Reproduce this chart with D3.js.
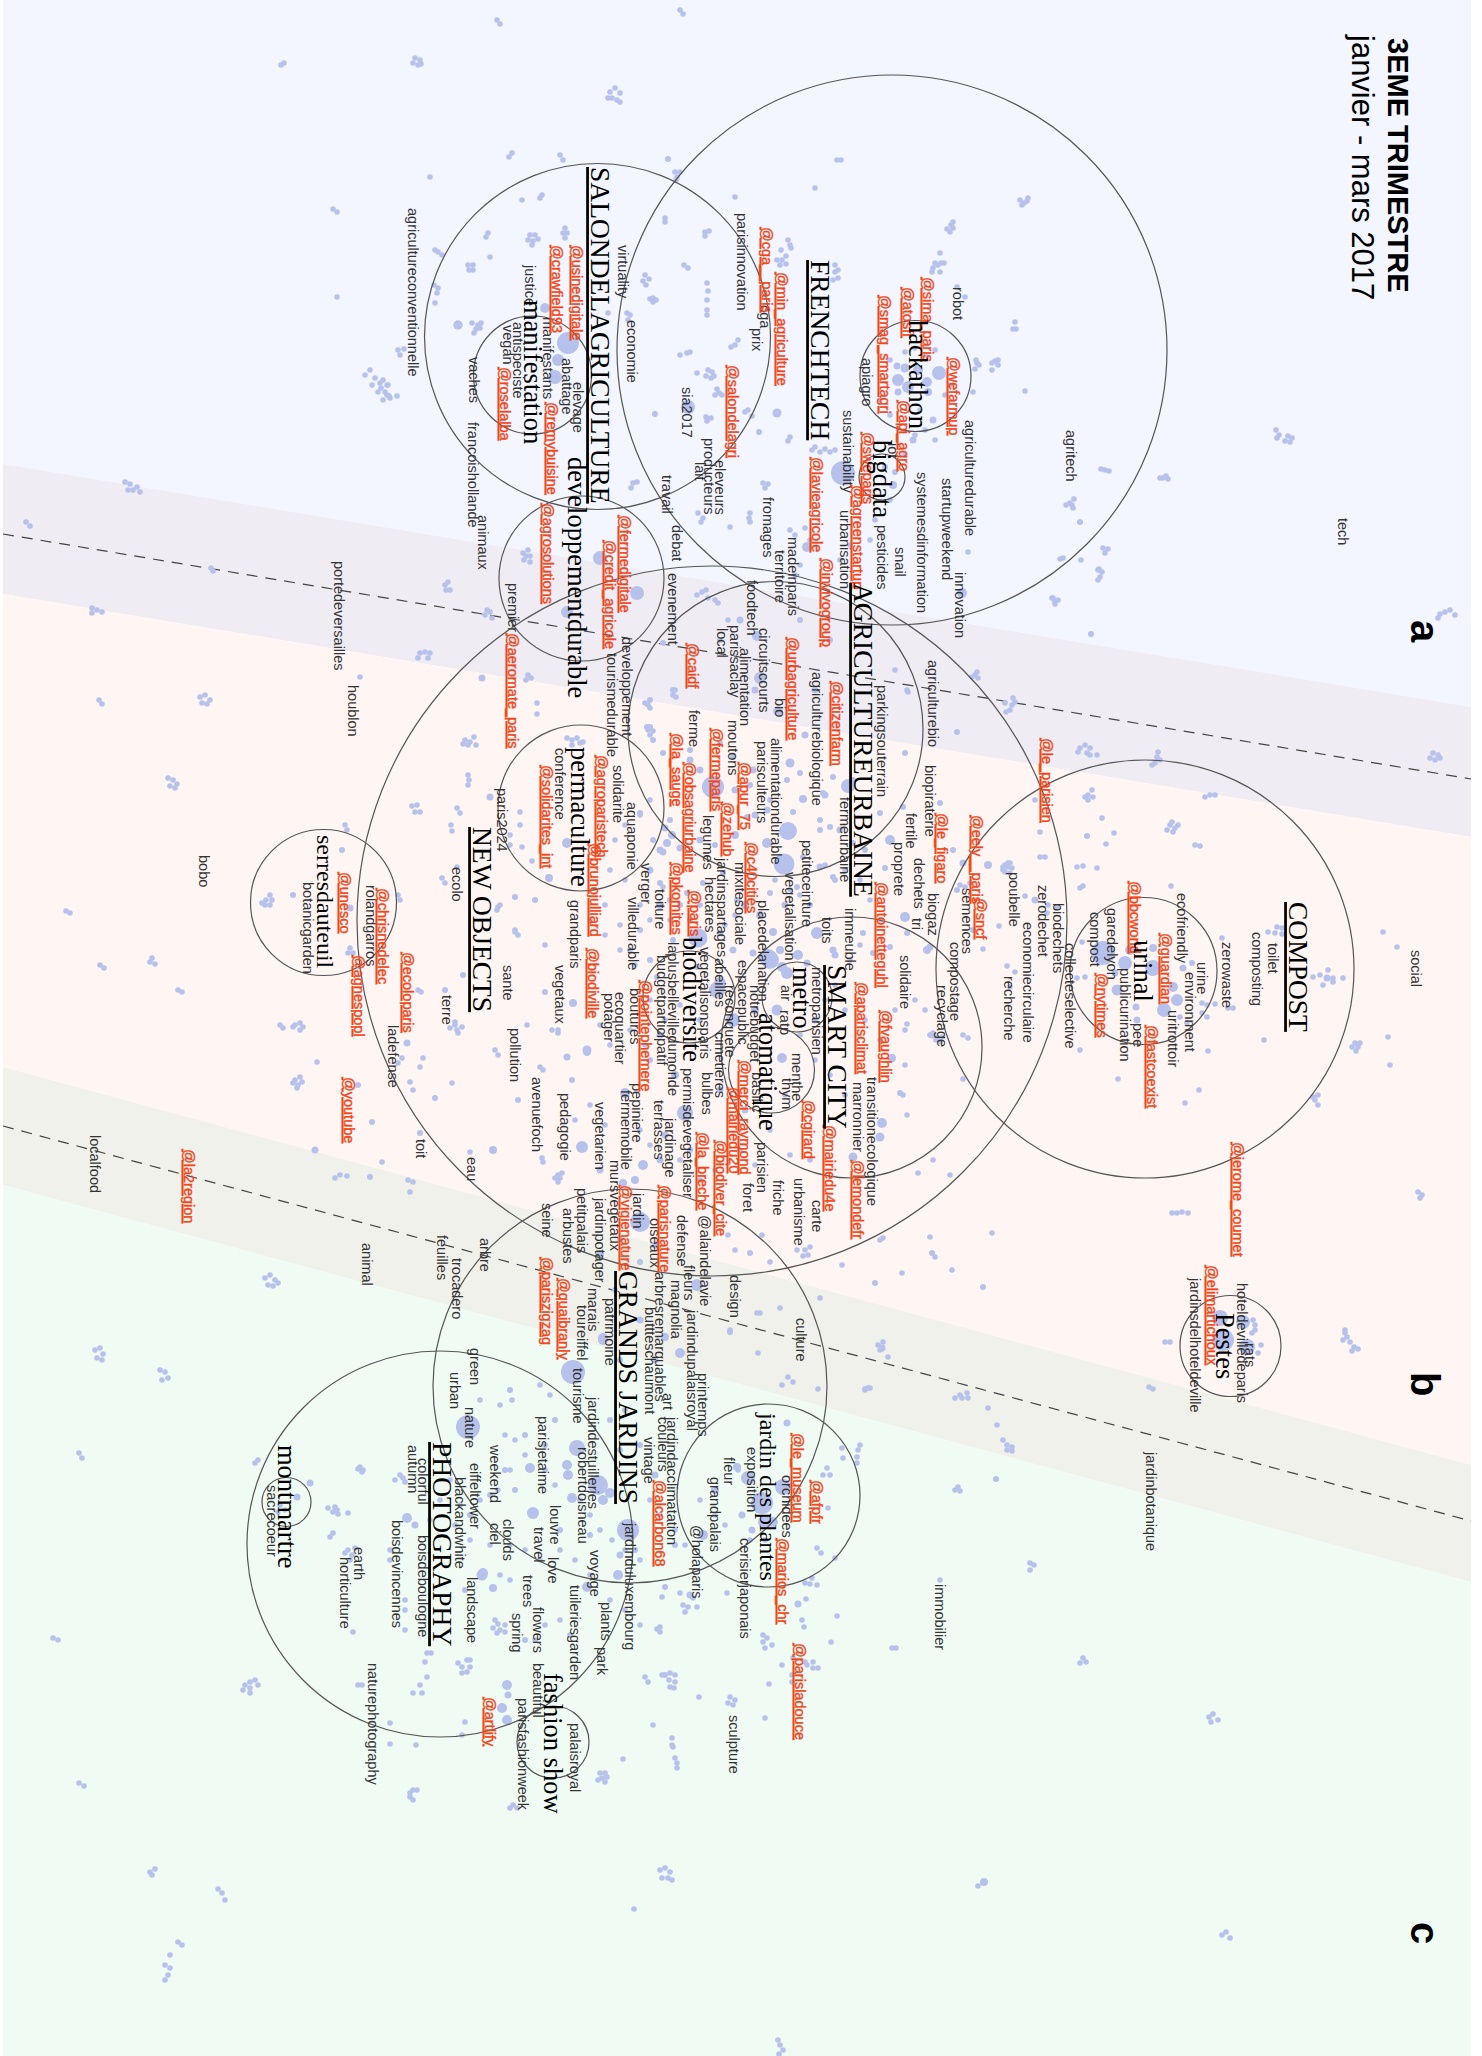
<!DOCTYPE html>
<html lang="en">
    <head>
        <meta charset="utf-8">
        <title>3EME TRIMESTRE</title>
        <script type="text/javascript" src="https://d3js.org/d3.v7.min.js"></script>
        <style type="text/css">
            body { margin: 0; background: #fff; }
            svg { display: block; }
            text { font-family: "Liberation Sans", sans-serif; }
            .word { font-size: 14.5px; fill: #333; }
            .handle { font-size: 14.5px; fill: #f2461a; stroke: #f2461a; stroke-width: 0.4px; text-decoration: underline; }
            .sub { font-family: "Liberation Serif", serif; font-size: 26.5px; fill: #000; }
            .subsmall { font-family: "Liberation Serif", serif; font-size: 24px; fill: #000; }
            .topic { font-family: "Liberation Serif", serif; font-size: 27.5px; fill: #000; text-decoration: underline; }
        </style>
    </head>
    <body>
        <div id="map"></div>
        <script type="text/javascript">

            // the three periods, edges read at the left and right side of the map
            var bandColors = ["#f3f6ff", "#f0ecf4", "#fff6f3", "#f1f1eb", "#f0fbf4"];
            var bandLeft = [464, 594, 1067, 1185];
            var bandRight = [707, 837, 1465, 1582];
            var dashLeft = [534, 1126];
            var dashRight = [779, 1521];
            var periods = [["a", 1425, 620], ["b", 1425, 1372], ["c", 1425, 1922]];

            // [x, y, radius]
            var circles = [
                [892,350,275],[597.5,336.5,173],[532.5,375,59],[915.5,376,55.5],[882,477,23],
                [581.5,578.5,82.5],[775.5,729,147.5],[581,808,83],[712,921,355],[323.5,902.5,73],
                [851.5,1047.5,130.5],[797,997,35],[771.5,1070,43],[689,997,46],[1145,969,209],
                [1143.5,971,73.5],[1230.5,1346,50.5],[630,1386,197],[768.5,1495.5,91.5],
                [440,1544,193],[286.5,1502,24.5],[553,1742,36]
            ];

            // [name, x, y]
            var topics = [
                ["SALONDELAGRICULTURE",600,167],["FRENCHTECH",820,260],["AGRICULTUREURBAINE",863,583],
                ["NEW OBJECTS",482,827],["SMART CITY",837,965],["COMPOST",1298,902],
                ["GRANDS JARDINS",628,1271],["PHOTOGRAPHY",442,1442]
            ];
            var subtopics = [
                ["manifestation",533,300],["developpementdurable",577,457],["hackathon",918,320],
                ["bigdata",882,440],["permaculture",580,747],["biodiversite",692,937],
                ["metro",802,967],["atomatique",768,1013],["urinal",1143,940],["Pestes",1225,1313],
                ["montmartre",287,1445],["fashion show",553,1673]
            ];
            var subtopicsSmall = [["serresdauteuil",325,835],["jardin des plantes",768,1413]];

            var handles = [
                ["@cga__paris",767,227],["@min_agriculture",782,272],["@usinedigitale",577,245],
                ["@crawfield93",557,245],["@roselalba",505,367],["@remybuisine",552,402],
                ["@salondelagri",733,365],["@lavieagricole",817,457],["@agreenstartup",858,485],
                ["@sweparis",868,432],["@invivogroup",827,558],["@fermedigitale",625,515],
                ["@credit_agricole",610,540],["@agrosolutions",548,503],["@aeromate_paris",513,633],
                ["@caidf",693,643],["@urbagriculture",793,637],["@citizenfarm",837,681],
                ["@la_sauge",677,733],["@fermeparis",717,728],["@apur_75",745,762],
                ["@obsagriurbaine",690,762],["@zehub",728,802],["@c40cities",752,842],
                ["@pkomites",677,862],["@paris",695,890],["@solidarites_int",547,765],
                ["@agroparistech",602,755],["@brunojulliard",595,843],["@biodiville",593,948],
                ["@le_figaro",942,813],["@antoinetteguhl",882,882],["@eely__paris",977,815],
                ["@sncf",981,898],["@le_parisien",1047,738],["@bbcworld",1135,881],
                ["@nytimes",1102,973],["@guardian",1166,933],["@fastcoexist",1152,1025],
                ["@jerome_coumet",1238,1142],["@sima_paris",928,277],["@atosfr",908,287],
                ["@smag_smartagri",885,295],["@wefarmup",954,357],["@api_agro",904,400],
                ["@merci_raymond",745,1060],["@mairiedu20",734,1087],["@biodiver_cite",721,1140],
                ["@la_breche",703,1132],["@cgirard",809,1100],["@mairiedu4e",830,1125],
                ["@lemondefr",858,1160],["@fvaughlin",886,1010],["@aparisclimat",862,982],
                ["@pointephemere",646,980],["@vigienature",626,1185],["@parisnature",665,1185],
                ["@quaibranly",564,1278],["@pariszigzag",547,1257],["@alcarbon68",660,1480],
                ["@le_museum",798,1433],["@afpfr",817,1480],["@marios_chr",783,1538],
                ["@parisladouce",800,1643],["@artlify",490,1697],["@unesco",345,872],
                ["@chrisnedelec",383,888],["@agnespopl",359,955],["@ecoloparis",408,952],
                ["@youtube",349,1077],["@la2region",189,1149],["@elimartichoux",1212,1265]
            ];

            var words = [
                ["agricultureconventionnelle",413,208],["virtuality",623,245],["economie",632,320],
                ["parisinnovation",742,213],["cga",765,305],["prix",757,328],["justice",530,265],
                ["manifestants",548,317],["antispeciste",518,322],["vegan",508,325],["abattage",567,358],
                ["elevage",578,382],["vaches",474,357],["francoishollande",473,422],["animaux",483,515],
                ["sia2017",687,387],["producteurs",709,438],["lait",700,462],["eleveurs",720,460],
                ["travail",667,475],["debat",677,525],["evenement",673,573],["fromages",768,497],
                ["madeinparis",793,537],["territoire",780,550],["foodtech",752,580],
                ["sustainability",848,410],["urbanisation",845,510],["premier",513,583],
                ["developpement",627,637],["tourismedurable",612,653],["local",722,628],
                ["parissaclay",735,625],["circuitscourts",764,628],["alimentation",745,648],
                ["bio",780,698],["agriculturebiologique",817,672],["ferme",694,710],["moutons",733,720],
                ["parisculteurs",762,741],["alimentationdurable",776,738],["legumes",708,815],
                ["mixitesociale",740,862],["jardinspartages",722,858],["hectares",710,877],
                ["laplusbellevilledumonde",673,942],["budgetparticipatif",662,955],
                ["vegetalisonsparis",705,947],["abeilles",720,958],["placedelanation",763,900],
                ["vegetalisation",790,872],["petiteceinture",807,840],["toits",827,917],
                ["espacepublic",743,960],["notrebudget",755,985],["reconquete",730,985],
                ["cimetieres",720,1032],["villedurable",633,897],["toiture",660,889],["verger",646,863],
                ["grandparis",575,900],["vegetaux",560,965],["sante",508,965],["ecolo",457,867],
                ["paris2024",502,788],["conference",560,748],["solidarite",618,765],["aquaponie",632,802],
                ["houblon",353,685],["fermeurbaine",845,797],["parkingsouterrain",882,685],
                ["agriculturebio",933,660],["biopiraterie",930,765],["fertile",911,813],["proprete",899,842],
                ["dechets",919,858],["biogaz",933,893],["tri",917,918],["immeuble",850,908],
                ["semences",967,888],["compostage",955,942],["recyclage",942,985],["solidaire",905,955],
                ["poubelle",1014,872],["zerodechet",1043,885],["biodechets",1058,903],
                ["economiecirculaire",1028,922],["recherche",1009,976],["collecteselective",1070,943],
                ["compost",1095,912],["garedelyon",1112,908],["publicurination",1125,968],
                ["ecofriendly",1182,893],["urine",1202,962],["environment",1190,972],["uritrottoir",1173,1010],
                ["pee",1138,1023],["zerowaste",1227,942],["composting",1257,932],["toilet",1273,943],
                ["robot",958,287],["apiagro",867,358],["agriculturedurable",970,420],["iot",893,443],
                ["systemesdinformation",922,472],["startupweekend",947,478],["agritech",1071,430],
                ["snail",900,547],["pesticides",882,525],["innovation",960,572],["tech",1343,518],
                ["social",1416,950],["metroparisien",817,967],["air",786,985],["ratp",785,1010],
                ["menthe",797,1053],["thym",787,1078],["basilic",757,1072],["@alaindelavie",705,1215],
                ["parisien",762,1142],["foret",748,1183],["friche",778,1180],["urbanisme",799,1178],
                ["carte",817,1200],["marronnier",858,1082],["transitionecologique",872,1077],
                ["permisdevegetaliser",688,1068],["bulbes",707,1072],["boutures",635,988],
                ["ecoquartier",620,992],["potager",609,993],["pepiniere",637,1083],["fermemobile",626,1090],
                ["vegetarien",600,1102],["pedagogie",565,1093],["terrasses",659,1100],["jardinage",670,1118],
                ["mursvegetaux",615,1160],["jardin",638,1193],["oiseaux",655,1218],["defense",682,1215],
                ["petitpalais",582,1188],["jardinpotager",600,1198],["arbustes",568,1208],["fleurs",689,1265],
                ["magnolia",676,1280],["design",735,1275],["culture",801,1318],["arbresremarquables",660,1272],
                ["buttteschaumont",650,1307],["patrimoine",610,1298],["marais",593,1288],["toureiffel",582,1305],
                ["seine",547,1203],["arbre",485,1238],["trocadero",457,1258],["feuilles",442,1235],
                ["animal",367,1243],["jardindupalaisroyal",692,1310],["printemps",703,1373],["art",668,1393],
                ["jardindacclimatation",672,1417],["couleurs",663,1417],["vintage",649,1437],
                ["jardinduluxembourg",630,1523],["exposition",752,1447],["fleur",729,1457],
                ["grandpalais",715,1477],["orchidees",787,1475],["@holaparis",697,1525],
                ["cerisierjaponais",745,1538],["immobilier",940,1584],["sculpture",734,1715],
                ["jardinbotanique",1151,1452],["robertdoisneau",583,1447],["jardindestuilleries",593,1397],
                ["tourisme",578,1368],["parisjetaime",543,1416],["louvre",555,1505],["love",553,1557],
                ["voyage",595,1550],["travel",539,1527],["clouds",508,1519],["ciel",495,1523],
                ["weekend",495,1445],["eiffeltower",475,1463],["blackandwhite",460,1477],["nature",470,1407],
                ["urban",455,1372],["green",475,1348],["colorful",423,1458],["autumn",413,1445],
                ["boisdevincennes",397,1520],["boisdeboulogne",423,1535],["landscape",472,1577],
                ["trees",528,1575],["spring",517,1613],["flowers",538,1607],["tuileriesgarden",575,1585],
                ["plants",606,1602],["park",602,1647],["beautiful",538,1663],["parisfashionweek",523,1698],
                ["palaisroyal",575,1723],["naturephotography",373,1663],["earth",359,1547],
                ["horticulture",345,1557],["sacrecoeur",272,1485],["botanicgarden",308,882],
                ["rolandgarros",371,885],["terre",447,995],["ladefense",393,1025],["pollution",515,1028],
                ["avenuefoch",537,1077],["toit",421,1139],["eau",472,1157],["portedeversailles",339,561],
                ["bobo",204,855],["localfood",95,1135],["rats",1250,1343],["hoteldevilledeparis",1242,1283],
                ["jardinsdelhoteldeville",1195,1278]
            ];

            // posts with several interactions: [x, y, radius]
            var bigDots = [
                [568,343,11],[558,360,6],[555,377,7],[545,308,5],[458,325,4.7],[430,177,2.8],[843,473,12],
                [777,413,4.5],[688,407,7],[600,558,7],[637,593,7],[807,547,5],[655,414,3],[759,432,3],
                [939,373,7],[898,380,6],[905,368,4.5],[908,387,6],[927,382,5],[933,420,3.5],[898,392,3.5],
                [928,392,4],[918,370,5],[897,366,3.5],[913,440,3.5],[893,485,4],[885,467,3],[895,472,3],
                [713,787,11],[788,831,9],[784,864,10.5],[698,938,9.5],[770,960,9],[760,678,6],[757,636,5],
                [778,711,4.8],[803,799,4],[825,795,3.5],[790,763,4.6],[848,786,7],[567,612,6],[667,843,4],
                [672,835,4],[660,850,3.5],[680,848,3.5],[665,828,3.5],[567,843,5],[549,878,4],[490,797,3.5],
                [767,843,5],[805,735,3.5],[890,840,5],[885,868,3],[905,917,5],[817,933,6],[773,932,4],
                [798,955,5],[782,967,5],[720,983,6],[988,865,4],[957,732,3],[905,753,3],[768,958,9],
                [787,973,6],[777,1010,5.5],[782,1058,5],[733,1020,7],[717,990,8],[685,1113,8],[640,1222,10],
                [582,1147,6],[587,1050,4.5],[625,1093,5],[643,1165,5],[623,1183,4],[635,1180,4],[697,1285,6],
                [603,1340,5],[882,1123,5],[880,1137,4.5],[853,1157,4.5],[892,1058,4],[900,1093,3],[932,1035,3.5],
                [573,1372,12],[468,1427,12],[577,1448,8],[530,1468,5],[567,1465,5],[568,1475,5],[572,1498,5],
                [533,1513,6],[598,1485,10],[610,1493,5],[603,1500,5],[628,1530,11],[762,1503,11],[748,1478,7],
                [783,1487,8],[703,1535,5],[765,1522,7],[680,1353,5],[603,1338,5],[665,1337,4],[715,1490,4],
                [737,1467,4],[787,1423,3.5],[773,1522,5],[742,1515,3.5],[752,1530,3.5],[587,1587,5],[618,1575,5],
                [483,1573,5],[407,1518,5],[415,1525,3.5],[482,1575,5.5],[493,1588,4],[507,1685,5],[502,1708,5],
                [507,1720,5],[508,1695,3.5],[310,1483,3.5],[297,1497,3.5],[1103,953,12],[1130,950,5],[1125,963,7],
                [1153,968,8],[1117,990,5.5],[1115,973,3.5],[1177,1000,6],[1164,1010,7],[1173,987,5],[1153,948,4],
                [1137,1020,3.5],[1183,968,3.5],[1192,963,3],[1136,1007,3.5],[1220,1318,8],[1223,1340,11],
                [1243,1322,7],[1247,1347,8],[963,863,3.5],[1035,900,3.5],[927,950,4],[350,908,3.5],[293,895,3],
                [342,850,3],[445,990,3],[463,975,3],[515,897,3],[535,900,3],[545,992,3],[573,1003,4],[587,1052,4],
                [567,1057,3.5],[572,1080,3],[518,1100,3],[493,1150,4],[420,1133,3],[435,1098,3],[407,1043,3.5],
                [358,1085,3],[372,1122,3],[315,1150,3.5],[370,1177,3],[482,678,3.5],[650,727,3],[882,1348,3.5],
                [730,1332,3],[750,1253,3],[875,1283,3],[983,1287,3],[1091,634,3],[1080,522,3],[962,593,5],
                [1327,978,3.5],[1087,836,3],[668,159,3],[996,1479,3],[798,1604,3.5],[665,1587,3],[665,1675,3],
                [984,1882,4],[740,620,3.5],[720,640,3],[755,690,3.5],[800,620,3],[830,640,3],[815,690,3.5],
                [700,770,3.5],[690,750,3],[735,790,3.5],[750,785,3],[770,800,3],[820,830,3],[840,830,3.5],
                [755,815,3.5],[735,835,4],[700,840,3.5],[715,845,3],[650,870,3.5],[660,905,4],[690,920,3],
                [680,905,3],[745,905,4],[785,905,3.5],[760,915,4],[810,905,3],[835,880,3],[865,850,3],
                [835,955,3.5],[815,1020,3.5],[755,1010,4],[700,1020,3],[660,1035,3.5],[650,1060,3],[675,1075,4],
                [720,1090,3.5],[745,1110,3.5],[665,1135,3.5],[690,1150,3],[660,1160,3.5],[600,1170,3.5],[620,1240,3],
                [655,1245,3.5],[600,1255,4],[640,1262,3],[615,1290,3],[640,1320,3.5],[655,1360,3.5],[620,1360,3],
                [625,1410,3],[640,1445,3],[655,1475,3.5],[620,1450,3],[610,1420,3],[510,1390,3],[525,1435,3],
                [555,1420,3],[545,1445,3],[505,1470,3],[515,1490,3],[490,1495,3],[620,1555,3.5],[635,1550,3],
                [590,1535,3],[560,1530,3],[470,1515,3],[465,1590,3],[525,1640,3],[690,1595,3.5],[675,1545,3],
                [653,840,3],[663,852,3.5],[670,820,3],[640,813,3],[673,690,3],[663,643,3],[650,700,3],[647,727,3],
                [653,740,3],[663,753,3],[690,760,3.5],[720,743,3],[733,757,3],[753,770,3.5],[787,780,3],[800,773,3],
                [823,793,3],[833,777,3],[853,780,3],[747,817,3],[767,810,3.5],[793,812,3],[820,820,3],[830,827,3],
                [803,857,3],[820,867,3.5],[833,877,3],[853,843,3],[880,813,3],[903,807,3],[940,803,3],[953,850,3],
                [957,890,3],[973,930,3],[930,947,3.5],[907,933,3],[890,947,3],[873,953,3],[863,933,3],[833,950,3.5],
                [807,963,3.5],[780,950,4],[753,953,3.5],[733,950,3.5],[720,933,3.5],[697,967,3],[673,940,3],[650,960,3],
                [640,930,3],[630,950,3],[657,977,3],[670,900,3],[660,883,3],[687,893,3],[703,883,3],[723,873,3],
                [737,900,3],[770,893,3],[797,887,3]
            ];

            // posts with one interaction: [x, y]
            var smallDots = [
                [530,235],[535,235],[528,240],[533,241],[538,239],[532,245],[565,228],[563,233],[567,233],[565,238],
                [468,265],[473,265],[469,270],[473,270],[435,250],[438,252],[442,255],[434,285],[438,288],[437,293],
                [435,303],[398,350],[404,349],[400,355],[383,380],[387,385],[381,388],[387,395],[389,396],[397,396],
                [472,323],[478,325],[476,329],[481,323],[474,333],[480,328],[490,257],[488,233],[486,237],[542,195],
                [540,198],[512,153],[509,157],[560,155],[563,160],[675,172],[677,177],[680,172],[676,180],[665,218],
                [665,222],[705,232],[705,236],[709,231],[684,265],[688,268],[645,275],[643,281],[649,279],[646,285],
                [650,299],[653,298],[656,300],[653,302],[707,283],[708,291],[707,300],[707,310],[707,315],[781,250],
                [786,256],[782,260],[777,260],[780,265],[786,264],[790,245],[788,240],[791,248],[627,313],[630,315],
                [628,320],[608,313],[738,340],[735,345],[731,347],[680,355],[687,353],[690,352],[708,370],[712,372],
                [706,376],[711,378],[714,376],[697,373],[715,395],[719,393],[717,389],[722,395],[706,417],[711,418],
                [707,421],[745,412],[748,410],[752,416],[835,265],[835,272],[838,270],[838,278],[833,280],[633,483],
                [637,482],[631,488],[523,553],[528,550],[526,556],[530,556],[524,560],[530,562],[445,585],[448,582],
                [446,590],[450,590],[763,483],[768,484],[765,488],[750,513],[749,518],[750,522],[812,450],[815,447],
                [820,452],[825,449],[830,452],[835,450],[790,437],[788,441],[730,527],[698,513],[703,518],[701,522],
                [790,530],[795,535],[805,528],[810,540],[800,565],[795,575],[735,197],[815,188],[837,160],[841,160],
                [951,225],[953,228],[950,232],[947,229],[953,222],[940,253],[935,263],[938,265],[933,268],[941,263],
                [932,272],[940,272],[944,263],[957,287],[965,297],[1015,322],[1016,329],[1013,329],[995,361],[998,365],
                [992,363],[998,360],[992,370],[1025,391],[976,360],[979,365],[975,369],[977,363],[973,392],[1020,200],
                [1024,203],[1027,201],[1022,205],[1028,198],[1101,469],[1105,470],[1109,471],[1160,478],[1163,478],
                [1166,476],[1168,479],[1276,430],[1279,435],[1277,438],[1070,503],[1072,505],[1074,499],[1066,505],
                [1073,508],[1103,548],[1105,553],[1108,549],[1060,559],[1063,558],[1081,560],[1098,570],[1102,572],
                [1100,577],[1099,569],[1098,580],[1053,598],[1055,601],[1058,600],[1055,604],[1052,598],[968,552],
                [905,352],[915,348],[925,355],[890,360],[935,350],[945,395],[950,385],[880,400],[890,415],[920,410],
                [925,430],[935,440],[905,455],[915,435],[890,500],[875,520],[870,540],[840,560],[850,545],
                [465,740],[470,742],[474,737],[468,745],[476,745],[463,744],[468,775],[469,780],[468,785],[412,806],
                [417,805],[415,812],[420,812],[457,808],[460,813],[451,825],[452,831],[487,610],[490,612],[485,615],
                [492,618],[420,653],[425,652],[430,653],[428,658],[418,658],[360,677],[528,675],[531,678],[526,680],
                [537,703],[537,714],[567,738],[572,740],[577,738],[580,743],[583,742],[572,745],[653,731],[650,735],
                [648,730],[645,703],[648,705],[650,708],[675,690],[673,695],[676,697],[697,595],[702,592],[706,590],
                [708,598],[715,600],[718,603],[728,620],[520,825],[520,812],[510,835],[510,845],[522,847],[532,861],
                [1005,703],[1012,705],[1010,710],[1006,712],[1015,702],[1013,698],[977,672],[975,675],[978,678],
                [972,677],[907,690],[908,692],[895,670],[1005,865],[1008,867],[1010,863],[1003,870],[965,887],[970,883],
                [960,885],[663,887],[640,815],[650,800],[625,825],[615,840],[610,870],[625,880],
                [640,905],[650,920],[670,920],[700,905],[725,925],[735,915],[750,880],[775,880],[790,890],[800,895],
                [825,865],[845,870],[860,880],[870,900],[880,920],[860,945],[850,960],[835,985],[825,1000],[845,1010],
                [865,1020],[880,1040],[895,1010],[905,1030],[915,1000],[925,1010],[800,1035],[815,1060],[830,1075],
                [845,1095],[785,1095],[770,1130],[790,1155],[810,1160],[740,1150],[755,1165],[715,1170],[700,1180],
                [680,1160],[640,1130],[650,1145],[605,1125],[590,1105],[575,1120],[610,1045],[600,1025],[630,1030],
                [645,1045],[665,1020],[680,1005],[650,1000],[635,965],[620,950],[605,935],[590,920],[605,905],[620,925],
                [797,1250],[805,1250],[808,1255],[803,1256],[810,1247],[728,1235],[735,1250],[762,1235],[770,1262],
                [992,1233],[952,1270],[902,1273],[932,1253],[935,1257],[930,1237],[883,1238],[880,1240],[780,1308],
                [730,1330],[295,1025],[300,1023],[303,1027],[300,1030],[293,1027],[280,1025],[283,1028],[295,1080],
                [300,1077],[298,1085],[302,1082],[297,1088],[293,1083],[266,900],[270,905],[265,905],[272,900],[262,903],
                [270,895],[345,825],[347,830],[400,900],[398,895],[348,953],[353,953],[350,948],[450,1028],[457,1030],
                [455,1025],[458,1033],[462,1027],[455,1022],[418,990],[421,992],[457,867],[442,878],[445,883],[498,907],
                [500,905],[497,910],[515,932],[518,935],[515,930],[545,945],[552,1030],[558,1030],[558,1033],[527,1025],
                [495,1050],[498,1055],[540,1067],[543,1070],[558,1175],[560,1178],[562,1173],[555,1178],[558,1182],
                [542,1158],[543,1162],[470,1152],[452,1083],[423,1058],[420,1067],[410,1082],[413,1090],[402,1058],
                [398,1063],[317,1062],[340,1175],[347,1176],[335,1178],[382,1162],[408,1180],[413,1182],[410,1192],
                [883,1342],[878,1345],[880,1350],[888,1357],[865,1390],[868,1388],[932,1253],[842,1265],[820,1298],
                [757,1313],[760,1313],[758,1353],[788,1377],[793,1382],[818,1389],[782,1385],[860,1445],[858,1450],
                [857,1457],[857,1463],[842,1448],[843,1458],[827,1468],[823,1475],[830,1475],[828,1508],[817,1548],
                [821,1553],[835,1558],[812,1578],[805,1583],[810,1584],[817,1585],[806,1599],[802,1620],[804,1627],
                [837,1616],[831,1642],[763,1635],[767,1638],[763,1642],[772,1645],[765,1648],[793,1658],[805,1662],
                [813,1662],[807,1665],[813,1668],[818,1668],[782,1665],[792,1675],[792,1682],[769,1684],[730,1697],
                [735,1700],[728,1703],[733,1705],[699,1697],[662,1675],[670,1673],[675,1675],[669,1680],[675,1682],
                [670,1687],[674,1688],[645,1677],[648,1682],[765,1718],[653,1725],[672,1738],[672,1745],[673,1747],
                [675,1758],[677,1763],[677,1768],[623,1759],[955,1490],[958,1487],[960,1491],[892,1648],[896,1648],
                [940,1580],[1003,1440],[1007,1445],[1012,1447],[1007,1450],[1012,1451],[988,1408],[997,1425],[967,1393],
                [960,1395],[968,1398],[962,1398],[955,1398],[865,1389],[870,1388],[657,1629],[660,1627],[660,1632],
                [683,1605],[688,1607],[697,1607],[685,1612],[693,1598],[680,1593],[662,1597],[727,1593],
                [495,1620],[498,1624],[500,1630],[497,1633],[505,1632],[493,1628],[505,1625],[458,1663],[462,1667],
                [467,1660],[470,1667],[462,1673],[467,1672],[470,1660],[348,1550],[352,1555],[345,1553],[350,1560],
                [355,1548],[335,1507],[337,1510],[333,1512],[338,1514],[328,1508],[348,1513],[360,1467],[363,1470],
                [358,1469],[362,1472],[258,1460],[255,1463],[280,1505],[285,1510],[278,1512],[333,1533],[330,1537],
                [245,1685],[250,1682],[255,1680],[258,1685],[250,1688],[243,1690],[250,1693],[410,1793],[413,1790],
                [417,1790],[410,1797],[413,1800],[513,1805],[510,1808],[517,1808],[600,1773],[605,1773],[602,1778],
                [607,1777],[598,1780],[605,1782],[427,1677],[420,1685],[422,1693],[413,1693],[390,1723],[390,1744],
                [416,1745],[358,1685],[362,1685],[425,1662],[431,1653],[427,1653],[400,1475],[403,1478],[405,1482],
                [395,1480],[353,1632],[390,1550],[390,1560],[405,1600],[405,1610],[405,1630],[465,1722],[462,1735],
                [480,1400],[500,1405],[512,1400],[505,1435],[515,1440],[540,1385],[550,1395],[525,1455],[498,1490],
                [510,1470],[480,1500],[470,1540],[490,1545],[510,1545],[525,1550],[545,1470],[555,1485],[580,1500],
                [590,1515],[600,1530],[612,1540],[625,1550],[640,1560],[650,1500],[660,1515],[675,1530],[685,1545],
                [700,1500],[715,1515],[725,1525],[738,1470],[750,1540],[765,1540],[540,1560],[560,1550],[575,1560],
                [590,1575],[610,1600],[625,1610],[640,1625],[535,1640],[545,1625],[560,1620],[570,1635],[510,1580],
                [500,1575],[455,1525],[460,1505],[440,1500],[450,1480],[430,1520],[1040,857],[1045,857],
                [1080,748],[1085,745],[1090,748],[1078,752],[1087,753],[1090,755],[1097,755],[1157,757],[1155,763],
                [1152,765],[1160,760],[1158,752],[1088,795],[1092,790],[1085,797],[1093,797],[1088,800],[1170,825],
                [1175,828],[1173,832],[1167,830],[1172,822],[1178,825],[1205,797],[1210,795],[1215,795],[1195,845],
                [1200,846],[1102,818],[1114,833],[1106,844],[1077,867],[1083,866],[1097,868],[1080,888],[1083,886],
                [1171,886],[1003,867],[1008,863],[1005,872],[1012,868],[1010,873],[1048,905],[1057,907],[1047,913],
                [999,926],[1025,896],[983,949],[1007,966],[1015,972],[1010,987],[933,1033],[937,1037],[936,1040],
                [940,1042],[930,1035],[942,1037],[963,1035],[968,1038],[963,1079],[907,1024],[905,1065],[903,1095],
                [907,1115],[933,1160],[918,1173],[950,1175],[1035,800],[1040,832],[1077,978],[1085,977],[1082,942],
                [1202,1003],[1207,1005],[1202,1013],[1207,1017],[1215,1004],[1180,1017],[1187,1023],[1264,1040],
                [1208,1051],[1199,1090],[1185,1103],[1118,1079],[1080,1050],[1277,927],[1268,932],[1275,933],[1282,928],
                [1282,934],[1222,938],[1233,1008],[1228,1008],[1313,977],[1333,978],[1343,978],[1320,975],[1328,970],
                [1323,985],[1333,982],[1355,1043],[1358,1047],[1352,1047],[1360,1043],[1356,1051],[1313,1097],[1318,1095],
                [1315,1100],[1318,1105],[1383,932],[1397,947],[1388,1037],[1390,1065],[1253,1320],[1255,1325],[1255,1330],
                [1252,1333],[1261,1345],[1258,1353],[1165,1342],[1170,1342],[1345,1333],[1347,1337],[1343,1340],[1350,1342],
                [1345,1330],[1172,1213],[1177,1213],[1182,1212],[1188,1213],
                [415,58],[420,60],[418,65],[413,63],[421,64],[497,20],[500,24],[680,10],[683,14],[284,63],[281,65],
                [610,92],[615,88],[620,93],[612,98],[617,100],[608,98],[620,102],[333,209],[337,212],[337,297],
                [365,375],[370,370],[375,378],[380,383],[372,385],[385,392],[378,392],[390,398],[383,400],[388,385],
                [522,200],[125,482],[130,484],[137,487],[133,490],[140,492],[128,490],[92,608],[97,610],[102,612],[92,613],
                [200,697],[205,695],[210,700],[207,704],[202,703],[168,778],[173,780],[177,784],[170,786],[175,788],
                [66,911],[70,913],[100,965],[104,968],[152,958],[150,962],[155,964],[178,990],[182,992],[26,522],[30,526],
                [99,700],[102,704],[211,568],[213,571],[265,1278],[270,1275],[275,1280],[268,1285],[273,1286],[278,1283],
                [95,1350],[100,1348],[103,1354],[97,1358],[102,1360],[160,1370],[165,1372],[168,1378],[162,1380],[79,1453],
                [82,1458],[155,1869],[150,1872],[152,1875],[170,1955],[165,1965],[170,1968],[168,1975],[165,1980],[218,1889],
                [222,1893],[225,1900],[178,1942],[182,1945],[53,1638],[58,1640],[79,1783],[84,1786],[660,1870],[665,1868],
                [670,1872],[668,1878],[662,1878],[672,1880],[634,1909],[779,2054],[783,2050],[780,2045],[778,2040],[978,1886],
                [1222,1935],[1226,1932],[1230,1938],[1083,1658],[1086,1662],[1080,1663],[1030,1563],[1034,1565],[1030,1570],
                [1209,1717],[1213,1714],[1218,1720],[1211,1722],[1354,1347],[1358,1349],[1352,1351],[1288,436],[1292,438],
                [1290,442],[1285,441],[1440,614],[1445,612],[1450,610],[1455,615],[1438,618],[1433,753],[1438,755],[1435,760],
                [1430,758],[1440,758],[1418,1192],[1422,1195],[1420,1198],[1149,1387],[1153,1389]
            ];

            var width = 1482, height = 2056;

            // the map was laid out in picture units
            var x = d3.scaleLinear().domain([0, 1482]).range([0, width]);
            var y = d3.scaleLinear().domain([0, 2056]).range([0, height]);
            var left = 3, right = 1471;

            var svg = d3.select("#map")
                .append("svg")
                    .attr("width", width)
                    .attr("height", height);

            // background bands, slanted
            var allLeft = [0].concat(bandLeft, [2056]);
            var allRight = [0].concat(bandRight, [2056]);
            var band = d3.area()
                .x(function(d) { return x(d.x) })
                .y0(function(d) { return y(d.y0) })
                .y1(function(d) { return y(d.y1) });

            svg.selectAll("path.band")
                .data(bandColors)
                .enter().append("path")
                    .attr("class", "band")
                    .attr("fill", function(d) { return d })
                    .attr("d", function(d, i) {
                        return band([
                            {x: left, y0: allLeft[i], y1: allLeft[i + 1]},
                            {x: right, y0: allRight[i], y1: allRight[i + 1]}
                        ]);
                    });

            // dashed separations
            svg.selectAll("line.sep")
                .data(dashLeft)
                .enter().append("line")
                    .attr("class", "sep")
                    .attr("x1", x(left))
                    .attr("x2", x(right))
                    .attr("y1", function(d) { return y(d) })
                    .attr("y2", function(d, i) { return y(dashRight[i]) })
                    .attr("stroke", "#444")
                    .attr("stroke-width", 1.2)
                    .attr("stroke-dasharray", "11,8");

            // dots
            svg.selectAll("circle.small")
                .data(smallDots)
                .enter().append("circle")
                    .attr("class", "small")
                    .attr("cx", function(d) { return x(d[0]) })
                    .attr("cy", function(d) { return y(d[1]) })
                    .attr("r", 2.8)
                    .attr("fill", "#b6c2ec");

            svg.selectAll("circle.big")
                .data(bigDots)
                .enter().append("circle")
                    .attr("class", "big")
                    .attr("cx", function(d) { return x(d[0]) })
                    .attr("cy", function(d) { return y(d[1]) })
                    .attr("r", function(d) { return d[2] })
                    .attr("fill", "#b6c2ec");

            // community outlines
            svg.selectAll("circle.ring")
                .data(circles)
                .enter().append("circle")
                    .attr("class", "ring")
                    .attr("cx", function(d) { return x(d[0]) })
                    .attr("cy", function(d) { return y(d[1]) })
                    .attr("r", function(d) { return d[2] })
                    .attr("fill", "none")
                    .attr("stroke", "#555")
                    .attr("stroke-width", 1.2);

            // all the text runs downwards
            function addLabels(rows, cls) {
                svg.selectAll("text." + cls)
                    .data(rows)
                    .enter().append("text")
                        .attr("class", cls)
                        .attr("dy", "0.33em")
                        .attr("transform", function(d) {
                            return "translate(" + x(d[1]) + "," + y(d[2]) + ") rotate(90)";
                        })
                        .text(function(d) { return d[0] });
            }

            addLabels(words, "word");
            addLabels(handles, "handle");
            addLabels(subtopics, "sub");
            addLabels(subtopicsSmall, "subsmall");
            addLabels(topics, "topic");

            // period letters and title
            svg.selectAll("text.period")
                .data(periods)
                .enter().append("text")
                    .attr("class", "period")
                    .attr("dy", "0.35em")
                    .attr("font-size", 40)
                    .attr("font-weight", "bold")
                    .attr("transform", function(d) {
                        return "translate(" + x(d[1]) + "," + y(d[2]) + ") rotate(90)";
                    })
                    .text(function(d) { return d[0] });

            svg.append("text")
                .attr("transform", "translate(1388,38) rotate(90)")
                .attr("font-size", 29)
                .attr("font-weight", "bold")
                .text("3EME TRIMESTRE");

            svg.append("text")
                .attr("transform", "translate(1352,35) rotate(90)")
                .attr("font-size", 31)
                .text("janvier - mars 2017");
        </script>
    </body>
</html>
